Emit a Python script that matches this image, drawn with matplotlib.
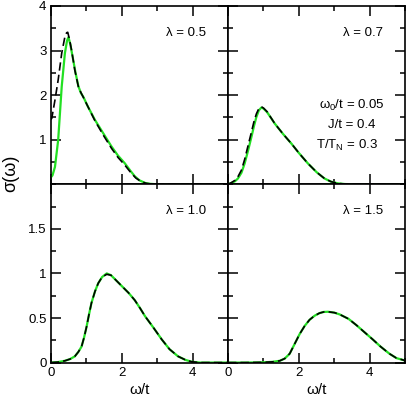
import matplotlib
matplotlib.use('Agg')
import matplotlib.pyplot as plt
from matplotlib.ticker import MultipleLocator, FixedLocator

plt.rcParams['font.family'] = ['Liberation Sans', 'DejaVu Sans']

# lambda = 0.5
x05_g = [0.0, 0.05, 0.12, 0.21, 0.31, 0.40, 0.46, 0.50, 0.55, 0.62, 0.70, 0.78, 0.85, 0.92,
         1.05, 1.25, 1.5, 1.72, 1.9, 2.09, 2.25, 2.37, 2.5, 2.66, 2.8, 3.0, 5.0]
y05_g = [0.15, 0.20, 0.39, 0.99, 2.19, 2.94, 3.22, 3.30, 3.15, 2.85, 2.5, 2.2, 2.05, 1.96,
         1.74, 1.44, 1.12, 0.84, 0.64, 0.47, 0.30, 0.18, 0.09, 0.03, 0.01, 0.0, 0.0]
x05_d = [0.0, 0.03, 0.12, 0.21, 0.31, 0.40, 0.45, 0.48, 0.53, 0.59, 0.68, 0.78, 0.85, 0.92,
         1.25, 1.5, 1.72, 1.9, 2.09, 2.25, 2.4, 2.55, 2.7, 2.85, 3.0, 5.0]
y05_d = [1.45, 1.48, 1.89, 2.34, 2.94, 3.31, 3.40, 3.41, 3.25, 3.0, 2.56, 2.19, 2.06, 1.95,
         1.42, 1.08, 0.80, 0.60, 0.43, 0.27, 0.14, 0.06, 0.02, 0.005, 0.0, 0.0]

# lambda = 0.7
x07 = [0, 0.1, 0.2, 0.28, 0.38, 0.47, 0.56, 0.66, 0.73, 0.80, 0.87, 0.94, 1.0, 1.1, 1.32,
       1.55, 1.79, 2.0, 2.25, 2.5, 2.72, 2.9, 3.1, 3.3, 3.6, 5.0]
y07_g = [0.0, 0.03, 0.07, 0.13, 0.26, 0.47, 0.74, 1.06, 1.30, 1.51, 1.66, 1.72, 1.70, 1.62, 1.36,
         1.13, 0.91, 0.70, 0.47, 0.27, 0.13, 0.06, 0.02, 0.005, 0.0, 0.0]
y07_d = [0.0, 0.04, 0.09, 0.17, 0.32, 0.56, 0.85, 1.17, 1.40, 1.58, 1.70, 1.74, 1.71, 1.63, 1.36,
         1.13, 0.91, 0.70, 0.47, 0.27, 0.13, 0.06, 0.02, 0.005, 0.0, 0.0]

# lambda = 1.0
x10 = [0, 0.2, 0.4, 0.55, 0.68, 0.78, 0.87, 0.94, 1.01, 1.08, 1.15, 1.25, 1.34, 1.45, 1.58,
       1.7, 1.85, 2.0, 2.2, 2.37, 2.52, 2.66, 2.9, 3.13, 3.35, 3.59, 3.8, 3.97, 4.2, 5.0]
y10_g = [0.0, 0.005, 0.02, 0.04, 0.07, 0.12, 0.18, 0.28, 0.40, 0.54, 0.67, 0.80, 0.89, 0.96, 1.00,
         0.98, 0.92, 0.86, 0.78, 0.70, 0.61, 0.52, 0.39, 0.26, 0.15, 0.07, 0.03, 0.01, 0.0, 0.0]
y10_d = [0.0, 0.005, 0.02, 0.04, 0.07, 0.12, 0.18, 0.28, 0.40, 0.54, 0.67, 0.80, 0.89, 0.96, 0.99,
         0.98, 0.92, 0.86, 0.78, 0.70, 0.61, 0.52, 0.39, 0.26, 0.15, 0.07, 0.03, 0.01, 0.0, 0.0]

# lambda = 1.5
x15 = [0, 0.5, 1.0, 1.25, 1.46, 1.6, 1.74, 1.88, 2.02, 2.16, 2.30, 2.44, 2.58, 2.70, 2.82,
       3.0, 3.15, 3.4, 3.62, 3.85, 4.08, 4.3, 4.55, 4.75, 4.93, 5.0]
y15_g = [0.0, 0.0, 0.003, 0.008, 0.02, 0.045, 0.10, 0.21, 0.32, 0.41, 0.48, 0.525, 0.555, 0.568, 0.57,
         0.56, 0.54, 0.49, 0.42, 0.34, 0.26, 0.18, 0.10, 0.05, 0.03, 0.02]
y15_d = y15_g

lam_labels = ['λ = 0.5', 'λ = 0.7', 'λ = 1.0', 'λ = 1.5']

green = '#22e022'

fig, axs = plt.subplots(2, 2, figsize=(4.09, 3.98), dpi=100)
fig.subplots_adjust(left=0.124, right=0.991, top=0.985, bottom=0.089, hspace=0, wspace=0)

curves = [(x05_g, y05_g, x05_d, y05_d), (x07, y07_g, x07, y07_d),
          (x10, y10_g, x10, y10_d), (x15, y15_g, x15, y15_d)]

for i, ax in enumerate(axs.flat):
    xg, yg, xd, yd = curves[i]
    ax.plot(xg, yg, color=green, lw=1.6)
    ax.plot(xd, yd, color='black', lw=1.2, dashes=(5, 2.5))
    ax.set_xlim(0, 5)
    ax.xaxis.set_major_locator(MultipleLocator(2))
    ax.xaxis.set_minor_locator(MultipleLocator(1))
    if i < 2:
        ax.set_ylim(0, 4)
        ax.yaxis.set_major_locator(FixedLocator([1, 2, 3, 4]))
        ax.yaxis.set_minor_locator(MultipleLocator(0.5))
        ax.set_xticklabels([])
    else:
        ax.set_ylim(0, 2)
        ax.yaxis.set_major_locator(FixedLocator([0, 0.5, 1, 1.5]))
        ax.yaxis.set_minor_locator(MultipleLocator(0.25))
        ax.set_xlabel('ω/t', fontsize=11, labelpad=3)
    ax.tick_params(which='both', direction='in', top=True, right=True, width=1.1,
                   labelsize=9.5, pad=3)
    ax.tick_params(which='major', length=7)
    ax.tick_params(which='minor', length=3.5)
    for s in ax.spines.values():
        s.set_linewidth(1.2)
    ax.text(0.875, 0.85, lam_labels[i], transform=ax.transAxes,
            ha='right', va='center', fontsize=9.5)

axs[0, 0].set_yticklabels(['1', '2', '3', '4'])
axs[1, 0].set_yticklabels(['0', '0.5', '1', '1.5'])
axs[0, 1].set_yticklabels([])
axs[1, 1].set_yticklabels([])

ax = axs[0, 1]
ax.text(0.70, 0.444, r'$\mathregular{\omega_0}$/t = 0.05', transform=ax.transAxes,
        ha='center', va='center', fontsize=9.5)
ax.text(0.70, 0.331, 'J/t = 0.4', transform=ax.transAxes, ha='center', va='center', fontsize=9.5)
ax.text(0.67, 0.22, r'T/T$\mathregular{_N}$ = 0.3', transform=ax.transAxes,
        ha='center', va='center', fontsize=9.5)

fig.text(0.027, 0.565, 'σ(ω)', rotation=90, ha='center', va='center', fontsize=13)

fig.savefig('out.png', dpi=100)
